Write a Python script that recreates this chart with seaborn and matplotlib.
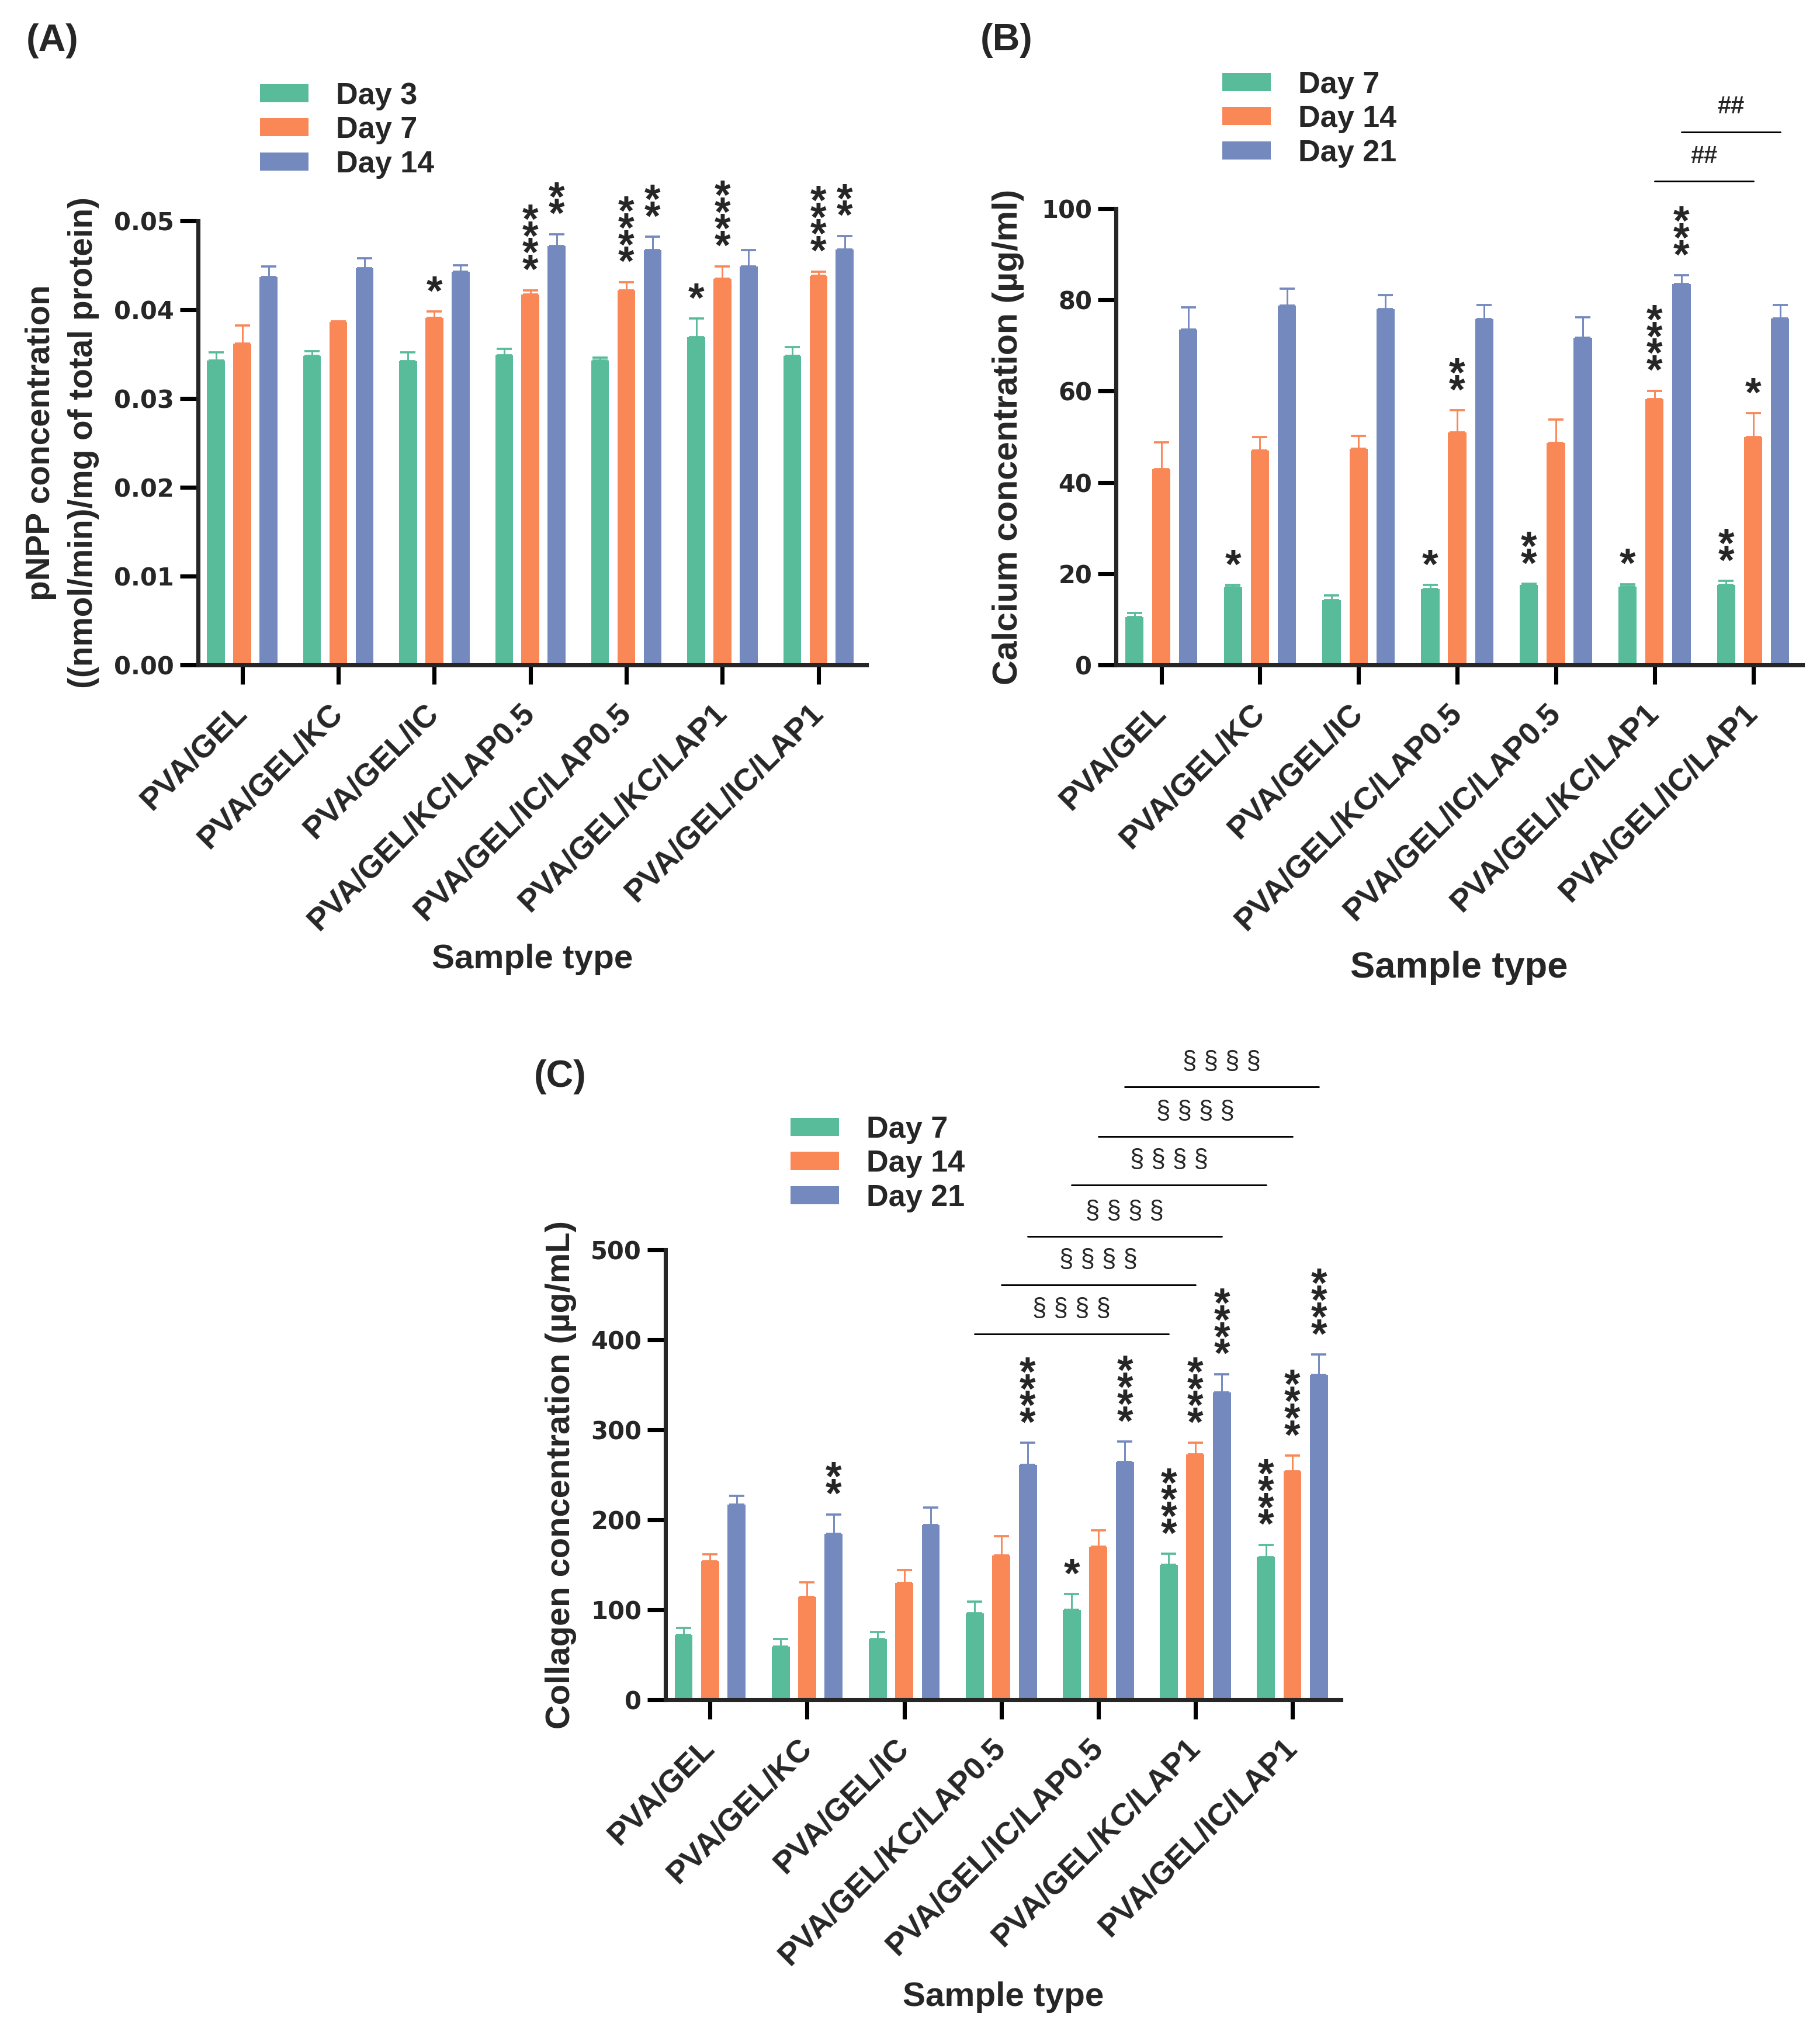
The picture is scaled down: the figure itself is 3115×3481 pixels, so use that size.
import matplotlib
matplotlib.use("Agg")
import matplotlib.pyplot as plt
import matplotlib.transforms as mtransforms
import numpy as np
import pandas as pd
import seaborn as sns

samples = ["PVA/GEL", "PVA/GEL/KC", "PVA/GEL/IC", "PVA/GEL/KC/LAP0.5",
           "PVA/GEL/IC/LAP0.5", "PVA/GEL/KC/LAP1", "PVA/GEL/IC/LAP1"]
colors = ["#58BC9A", "#FA8756", "#7489BE"]

# (A) pNPP / ALP activity
days_a = ["Day 3", "Day 7", "Day 14"]
alp_day3 = [0.0343, 0.0348, 0.0342, 0.0349, 0.0343, 0.0369, 0.0348]
alp_day3_sd = [0.0009, 0.0005, 0.0010, 0.0007, 0.0003, 0.0021, 0.0010]
alp_day7 = [0.0362, 0.0386, 0.0391, 0.0417, 0.0422, 0.0435, 0.0438]
alp_day7_sd = [0.0020, 0.0001, 0.0007, 0.0005, 0.0009, 0.0014, 0.0005]
alp_day14 = [0.0437, 0.0447, 0.0443, 0.0472, 0.0467, 0.0449, 0.0468]
alp_day14_sd = [0.0012, 0.0011, 0.0007, 0.0013, 0.0015, 0.0018, 0.0015]
stars_a = [(2, 1, "*"), (3, 1, "****"), (3, 2, "**"), (4, 1, "****"), (4, 2, "**"),
           (5, 0, "*"), (5, 1, "****"), (6, 1, "****"), (6, 2, "**")]

# (B) calcium
days_b = ["Day 7", "Day 14", "Day 21"]
ca_day7 = [10.5, 17.0, 14.2, 16.7, 17.5, 17.2, 17.5]
ca_day7_sd = [0.9, 0.5, 1.1, 0.8, 0.3, 0.5, 0.9]
ca_day14 = [42.9, 47.0, 47.4, 50.9, 48.6, 58.3, 50.0]
ca_day14_sd = [5.9, 2.9, 2.8, 4.9, 5.2, 1.8, 5.2]
ca_day21 = [73.5, 78.7, 78.0, 75.8, 71.7, 83.5, 75.9]
ca_day21_sd = [4.9, 3.8, 3.1, 3.1, 4.5, 1.9, 3.0]
stars_b = [(1, 0, "*"), (3, 0, "*"), (3, 1, "**"), (4, 0, "**"), (5, 0, "*"),
           (5, 1, "****"), (5, 2, "***"), (6, 0, "**"), (6, 1, "*")]
# (group1, day1, group2, day2, label)
pairs_b = [(5, 1, 6, 1, "##"), (5, 2, 6, 2, "##")]
pair_levels_b = [106.0, 116.8]

# (C) collagen
days_c = ["Day 7", "Day 14", "Day 21"]
col_day7 = [72.4, 59.4, 67.4, 95.8, 99.8, 150.2, 158.2]
col_day7_sd = [7.4, 8.0, 7.9, 13.0, 17.5, 12.0, 14.0]
col_day14 = [153.7, 114.3, 129.7, 160.7, 170.2, 272.5, 254.0]
col_day14_sd = [8.0, 16.4, 14.5, 20.9, 17.9, 12.9, 17.5]
col_day21 = [216.6, 184.1, 194.1, 261.0, 264.0, 341.3, 361.3]
col_day21_sd = [9.9, 22.0, 19.5, 24.4, 22.9, 20.5, 22.4]
stars_c = [(1, 2, "**"), (3, 2, "****"), (4, 0, "*"), (4, 2, "****"),
           (5, 0, "****"), (5, 1, "****"), (5, 2, "****"),
           (6, 0, "****"), (6, 1, "****"), (6, 2, "****")]
pairs_c = [(3, 0, 5, 0, "§ § § §"), (3, 1, 5, 1, "§ § § §"), (3, 2, 5, 2, "§ § § §"),
           (4, 0, 6, 0, "§ § § §"), (4, 1, 6, 1, "§ § § §"), (4, 2, 6, 2, "§ § § §")]
pair_levels_c = [406.7, 461.0, 515.0, 572.0, 626.0, 681.0]

sns.set_style("ticks")
plt.rcParams["font.family"] = ["Liberation Sans", "DejaVu Sans"]
plt.rcParams["font.weight"] = "bold"
plt.rcParams["axes.linewidth"] = 1.7

fig = plt.figure(figsize=(3115 / 300, 3481 / 300), dpi=300)


def long_table(means, days):
    frames = [pd.DataFrame({"sample": samples, "day": d, "value": v})
              for d, v in zip(days, means)]
    return pd.concat(frames, ignore_index=True)


def draw_panel(rect, means, sds, days, yticks, ytick_fmt, ylabel, ylabel_x,
               ylabel_size, xlabel_y, xlabel_size, stars, legend_xy):
    ax = fig.add_axes(rect)
    df = long_table(means, days)
    sns.barplot(data=df, x="sample", y="value", hue="day", hue_order=days,
                order=samples, palette=colors, saturation=1, width=0.82, gap=0.32,
                errorbar=None, legend=False, linewidth=0, ax=ax)
    centers = []
    for cont in list(ax.containers)[:3]:
        bars = sorted(cont.patches, key=lambda b: b.get_x())
        centers.append([b.get_x() + b.get_width() / 2 for b in bars])
    handles = [cont.patches[0] for cont in list(ax.containers)[:3]]

    for i in range(3):
        ax.errorbar(centers[i], means[i], yerr=[np.zeros(len(samples)), sds[i]],
                    fmt="none", ecolor=colors[i], elinewidth=0.7, capsize=3.2,
                    capthick=0.9, zorder=1)

    # significance stars, stacked one above the other
    for g, h, txt in stars:
        ax.annotate("\n".join(txt), (centers[h][g], means[h][g] + sds[h][g]),
                    xytext=(0, -0.8), textcoords="offset points", ha="center",
                    va="bottom", linespacing=0.27, fontsize=17, fontweight="bold",
                    annotation_clip=False)

    ax.set_xlim(-0.46, 6.5)
    ax.set_ylim(yticks[0], yticks[-1])
    ax.set_yticks(yticks)
    ax.set_yticklabels([ytick_fmt.format(t) for t in yticks], family="DejaVu Sans",
                       fontsize=10, fontweight="bold")
    ax.set_xticks(range(len(samples)))
    ax.set_xticklabels(samples, rotation=45, ha="right", va="center",
                       rotation_mode="anchor", fontsize=13, fontweight="bold")
    offset = mtransforms.ScaledTranslation(2 / 72, 0, fig.dpi_scale_trans)
    for lab in ax.get_xticklabels():
        lab.set_transform(lab.get_transform() + offset)
    ax.tick_params(axis="y", length=7.4, width=1.7, pad=2.4, color="black")
    ax.tick_params(axis="x", length=8, width=1.7, pad=10, color="black")
    sns.despine(ax=ax)

    ax.set_ylabel(ylabel, fontsize=ylabel_size, fontweight="bold", va="center",
                  linespacing=1.45)
    ax.yaxis.set_label_coords(ylabel_x, 0.5)
    ax.set_xlabel("Sample type", fontsize=xlabel_size, fontweight="bold", va="baseline")
    ax.xaxis.set_label_coords(0.5, xlabel_y)

    ax.legend(handles, days, loc="upper left", bbox_to_anchor=legend_xy,
              bbox_transform=fig.transFigure, frameon=False,
              handlelength=1.6, handleheight=0.54, handletextpad=0.9,
              labelspacing=0.18, borderpad=0, borderaxespad=0,
              prop={"weight": "bold", "size": 12.5})
    return ax, centers


def draw_pairs(ax, centers, pairs, levels, text_kw):
    for (g1, h1, g2, h2, label), yv in zip(pairs, levels):
        x1, x2 = centers[h1][g1], centers[h2][g2]
        ax.plot([x1, x2], [yv, yv], color="black", lw=0.7, clip_on=False)
        ax.annotate(label, ((x1 + x2) / 2, yv), xytext=(0, 10.2),
                    textcoords="offset points", ha="center", va="center",
                    annotation_clip=False, **text_kw)


W, H = 3115.0, 3481.0
ax_a, cen_a = draw_panel(
    [339 / W, 1 - 1138 / H, (1483 - 339) / W, (1138 - 378) / H],
    [alp_day3, alp_day7, alp_day14], [alp_day3_sd, alp_day7_sd, alp_day14_sd],
    days_a, [0.0, 0.01, 0.02, 0.03, 0.04, 0.05], "{:.2f}",
    "pNPP concentration\n((nmol/min)/mg of total protein)", -0.203, 13.6,
    -0.683, 14, stars_a, (445 / W, 1 - 140 / H))

ax_b, cen_b = draw_panel(
    [1910 / W, 1 - 1138 / H, (3085 - 1910) / W, (1138 - 357) / H],
    [ca_day7, ca_day14, ca_day21], [ca_day7_sd, ca_day14_sd, ca_day21_sd],
    days_b, [0, 20, 40, 60, 80, 100], "{:d}",
    "Calcium concentration (µg/ml)", -0.157, 14.2,
    -0.685, 15.2, stars_b, (2092 / W, 1 - 121 / H))
draw_pairs(ax_b, cen_b, pairs_b, pair_levels_b, {"fontsize": 10, "fontweight": "bold"})

ax_c, cen_c = draw_panel(
    [1139 / W, 1 - 2909 / H, (2295 - 1139) / W, (2909 - 2139) / H],
    [col_day7, col_day14, col_day21], [col_day7_sd, col_day14_sd, col_day21_sd],
    days_c, [0, 100, 200, 300, 400, 500], "{:d}",
    "Collagen concentration (µg/mL)", -0.155, 13.9,
    -0.6805, 14, stars_c, (1353 / W, 1 - 1909 / H))
draw_pairs(ax_c, cen_c, pairs_c, pair_levels_c, {"fontsize": 10.5, "fontweight": "normal"})

for label, x, y in [("(A)", 90, 70), ("(B)", 1723, 69), ("(C)", 959, 1843)]:
    fig.text(x / W, 1 - y / H, label, ha="center", va="center", fontsize=15.5,
             fontweight="bold")

fig.savefig("out.png", dpi=300)
